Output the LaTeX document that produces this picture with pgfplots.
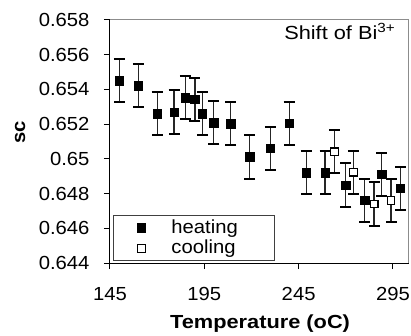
\documentclass[border=0pt]{standalone}
\usepackage{fontspec}
\setmainfont[FakeStretch=1.07]{Liberation Sans}
\newfontfamily\labfont[FakeStretch=1.15]{Liberation Sans}
\usepackage{pgfplots}
\pgfplotsset{compat=1.18}
\pgfplotstableread{
T v e
150 0.65450 0.00125
160 0.65422 0.00125
170 0.65260 0.00125
179 0.65270 0.00125
185 0.65352 0.00125
190 0.65343 0.00125
194 0.65260 0.00125
200 0.65208 0.00125
209 0.65203 0.00125
219 0.65011 0.00125
230 0.65061 0.00125
240 0.65205 0.00125
249 0.64920 0.00125
259 0.64920 0.00125
270 0.64849 0.00125
280 0.64761 0.00125
289 0.64911 0.00125
299 0.64830 0.00125
}\heating
\pgfplotstableread{
T v e
264 0.65041 0.00125
274 0.64923 0.00125
285 0.64740 0.00125
294 0.64761 0.00125
}\cooling
\begin{document}
\fontsize{19}{21}\selectfont
\begin{tikzpicture}
\useasboundingbox (-110bp,-73bp) rectangle (301bp,263bp);
\begin{axis}[
  at={(0,0)}, anchor=south west,
  scale only axis, width=299bp, height=243bp,
  xmin=145, xmax=303.5, ymin=0.644, ymax=0.658,
  axis lines=left, axis line style={-, black, line width=1bp},
  xtick={145,195,245,295}, xticklabels={145,195,245,295},
  ytick={0.644,0.646,0.648,0.650,0.652,0.654,0.656,0.658},
  yticklabels={0.644,0.646,0.648,0.65,0.652,0.654,0.656,0.658},
  tick align=outside, major tick length=6bp,
  tick style={black, line width=1bp},
  ticklabel style={font=\fontsize{19}{19}\selectfont},
  xticklabel style={yshift=-12bp},
  yticklabel style={xshift=-8bp},
  every axis x label/.style={at={(axis description cs:0.502,-0.251)}, anchor=center},
  every axis y label/.style={at={(axis description cs:-0.301,0.537)}, anchor=center, rotate=90},
  xlabel={\labfont\bfseries Temperature (oC)},
  ylabel={\bfseries sc},
  label style={font=\fontsize{19}{19}\selectfont},
  clip=false,
  legend style={at={(rel axis cs:0.01,0.008)}, anchor=south west, draw=black!75,
    line width=0.8bp, inner xsep=0bp, inner ysep=4bp, row sep=4bp, column sep=0bp,
    font=\fontsize{19}{19}\selectfont,
    nodes={inner sep=0bp}},
  legend image code/.code={\path[draw=none] (0bp,0bp) -- (58bp,0bp);
    \draw[#1, draw=none] plot coordinates {(28bp,0bp)};},
]
\draw[black!45, line width=1bp] (rel axis cs:0,1) -- (rel axis cs:1,1) -- (rel axis cs:1,0);
\addplot[only marks, mark=square*, mark size=4.2bp, black, mark options={line width=0.5bp, draw=black},
  error bars/.cd, y dir=both, y explicit,
  error bar style={line width=1.3bp, black!85},
  error mark options={rotate=90, line width=2bp, mark size=5.5bp, black}]
  table[x=T, y=v, y error=e] {\heating};
\addlegendentry{\makebox[103bp][l]{heating}}
\addplot[only marks, mark=square*, mark size=3.8bp, black, mark options={fill=white, draw=black, line width=1.2bp},
  error bars/.cd, y dir=both, y explicit,
  error bar style={line width=1.3bp, black!85},
  error mark options={rotate=90, line width=2bp, mark size=5.5bp, black}]
  table[x=T, y=v, y error=e] {\cooling};
\addlegendentry{\makebox[103bp][l]{cooling}}
\node[anchor=base east, font=\fontsize{19}{19}\selectfont] at (rel axis cs:0.976,0.921) {\labfont Shift of Bi\textsuperscript{3+}};
\end{axis}
\end{tikzpicture}
\end{document}
